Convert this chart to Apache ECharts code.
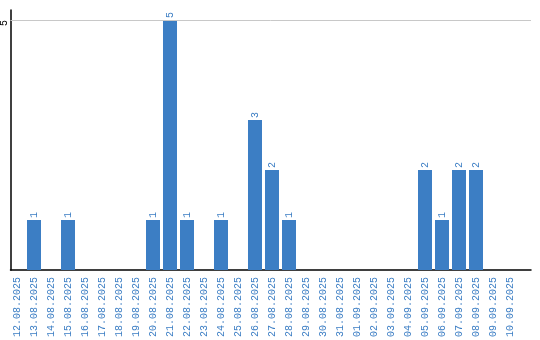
<!DOCTYPE html>
<html>
<head>
<meta charset="utf-8">
<script src="https://cdn.jsdelivr.net/npm/echarts@6/dist/echarts.min.js"></script>
<style>html,body{margin:0;padding:0;background:#fff}#c{width:540px;height:340px}</style>
</head>
<body>
<div id="c"></div>
<script>
const categories = ['12.08.2025','13.08.2025','14.08.2025','15.08.2025','16.08.2025','17.08.2025','18.08.2025','19.08.2025','20.08.2025','21.08.2025','22.08.2025','23.08.2025','24.08.2025','25.08.2025','26.08.2025','27.08.2025','28.08.2025','29.08.2025','30.08.2025','31.08.2025','01.09.2025','02.09.2025','03.09.2025','04.09.2025','05.09.2025','06.09.2025','07.09.2025','08.09.2025','09.09.2025','10.09.2025'];
const counts = [0,1,0,1,0,0,0,0,1,5,1,0,1,0,3,2,1,0,0,0,0,0,0,0,2,1,2,2,0,0];
const yTicks = [5];

const blue = '#3c7ec4';
const font = 'Liberation Mono';
const chart = echarts.init(document.getElementById('c'));
chart.setOption({
  animation: false,
  grid: {left: 10.5, right: 9, top: 10, bottom: 70, containLabel: false, outerBoundsMode: 'none'},
  xAxis: {
    type: 'value', min: -0.382, max: 30.235,
    axisLine: {show: true, onZero: false, lineStyle: {color: '#000', width: 1.5}},
    axisTick: {show: false},
    splitLine: {show: false},
    axisLabel: {
      customValues: categories.map((c, i) => i),
      formatter: v => categories[v] || '',
      rotate: 90, margin: 7, color: blue, fontFamily: font, fontSize: 10
    }
  },
  yAxis: {
    type: 'value', min: 0, max: 5.2,
    axisLine: {show: true, onZero: false, lineStyle: {color: '#000', width: 1.5}},
    axisTick: {show: false},
    splitLine: {show: false},
    axisLabel: {
      customValues: yTicks,
      rotate: 90, margin: 6, color: '#000', fontFamily: font, fontSize: 10,
      align: 'right', verticalAlign: 'middle'
    }
  },
  series: [{
    type: 'bar',
    barWidth: 14,
    data: counts.map((v, i) => [i, v]),
    itemStyle: {color: blue},
    label: {
      show: true, position: 'top', rotate: 90, align: 'left', verticalAlign: 'middle',
      distance: 2, color: blue, fontFamily: font, fontSize: 10,
      formatter: p => p.value[1] ? String(p.value[1]) : ''
    },
    markLine: {
      silent: true, symbol: 'none', label: {show: false},
      lineStyle: {color: '#c8c8c8', type: 'solid', width: 1},
      data: yTicks.map(t => ({yAxis: t}))
    },
    z: 3
  }]
});
</script>
</body>
</html>
